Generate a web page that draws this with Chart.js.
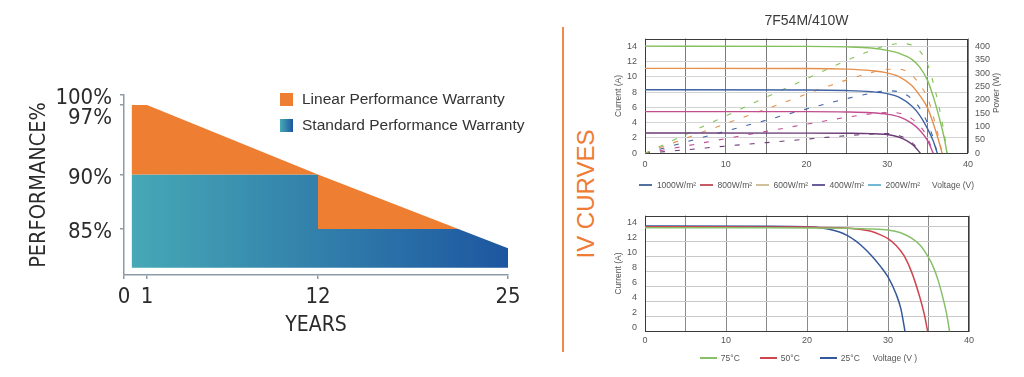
<!DOCTYPE html>
<html>
<head>
<meta charset="utf-8">
<script src="https://cdn.jsdelivr.net/npm/chart.js@4.4.1/dist/chart.umd.min.js"></script>
<style>
  html, body { margin:0; padding:0; background:#fff; }
  #page { position:relative; width:1024px; height:377px; overflow:hidden; background:#fff;
          font-family:'Liberation Sans', Arial, Helvetica, sans-serif; }
  canvas { position:absolute; }
  .divider { position:absolute; left:562px; top:27px; width:2px; height:325px; background:#f08a4c; }
  .ivtitle { position:absolute; left:586px; top:194px; transform:translate(-50%,-50%) rotate(-90deg);
             font-size:24px; line-height:24px; color:#ee7b36; white-space:nowrap; }
  .legend { position:absolute; display:flex; align-items:center; white-space:nowrap; color:#555; }
  .legend > span { display:inline-flex; align-items:center; }
</style>
</head>
<body>
<div id="page">
  <canvas id="warranty" width="560" height="377" style="left:0;top:0"></canvas>
  <div class="divider"></div>
  <div class="ivtitle">IV CURVES</div>
  <canvas id="ivIrr" width="413" height="200" style="left:600px;top:0"></canvas>
  <canvas id="ivTemp" width="413" height="177" style="left:600px;top:200px"></canvas>
  <div id="legWarranty" class="legend" style="left:280px;top:86px;flex-direction:column;align-items:flex-start;font-size:15.5px;color:#333"></div>
  <div id="legIrr" class="legend" style="left:600px;top:179px;width:413px;height:12px;justify-content:center;font-size:8.5px"></div>
  <div id="legTemp" class="legend" style="left:602px;top:352px;width:413px;height:12px;justify-content:center;font-size:8.5px"></div>
</div>
<script>
// ================= DATA =================
// Warranty chart
const yearTicks = [0, 1, 12, 25];
const percentTicks = [85, 90, 97, 100];
const linearYears = [0.33, 1, 12, 25];
const linearPercent = [97, 97, 90, 82.9];
const standardYears = [0.33, 12, 12, 21.6, 25];
const standardPercent = [90, 90, 85, 85, 82.9];
const warrantyBase = 80.8;
const warrantyLabels = ['Linear Performance Warranty', 'Standard Performance Warranty'];

// IV curves at different irradiance (current, A)
const irradianceLabels = ['1000W/m²', '800W/m²', '600W/m²', '400W/m²', '200W/m²'];
const volt1000 = [0, 20, 25, 28, 30, 31.5, 33, 34, 35, 35.7, 36.5, 37.1, 37.4];
const amp1000  = [14.0, 13.97, 13.9, 13.75, 13.45, 13.05, 12.3, 11.3, 9.5, 7.4, 4.4, 1.8, 0];
const volt800  = [0, 20, 25, 28, 30, 31.5, 33, 34, 35, 35.7, 36.3, 36.8];
const amp800   = [11.1, 11.08, 11.0, 10.8, 10.5, 10.0, 8.9, 7.6, 5.9, 3.9, 1.9, 0];
const volt600  = [0, 20, 25, 28, 30, 31.5, 33, 34, 35, 35.7, 36.2];
const amp600   = [8.3, 8.28, 8.2, 8.05, 7.8, 7.3, 6.2, 5.0, 3.2, 1.6, 0];
const volt400  = [0, 20, 25, 28, 30, 31.5, 33, 34, 35, 35.7];
const amp400   = [5.45, 5.44, 5.4, 5.3, 5.1, 4.75, 3.95, 3.05, 1.65, 0];
const volt200  = [0, 20, 25, 28, 30, 31.5, 32.5, 33.3, 34.1];
const amp200   = [2.65, 2.64, 2.62, 2.57, 2.45, 2.1, 1.6, 1.0, 0];

// Power curves (W) at different irradiance
const pVolt1000 = [0, 5, 10, 15, 20, 25, 28, 30, 31.5, 33, 34, 35, 35.7, 36.5, 37.1, 37.4];
const watt1000  = [0, 70, 140, 210, 279, 348, 385, 404, 411, 406, 384, 333, 264, 161, 67, 0];
const pVolt800  = [0, 5, 10, 15, 20, 25, 28, 30, 31.5, 33, 34, 35, 35.7, 36.3, 36.8];
const watt800   = [0, 56, 111, 166, 222, 275, 302, 315, 315, 294, 258, 207, 139, 69, 0];
const pVolt600  = [0, 5, 10, 15, 20, 25, 28, 30, 31.5, 33, 34, 35, 35.7, 36.2];
const watt600   = [0, 42, 83, 124, 166, 205, 225, 234, 230, 205, 170, 112, 57, 0];
const pVolt400  = [0, 5, 10, 15, 20, 25, 28, 30, 31.5, 33, 34, 35, 35.7];
const watt400   = [0, 27, 55, 82, 109, 135, 148, 153, 150, 130, 104, 58, 0];
const pVolt200  = [0, 5, 10, 15, 20, 25, 28, 30, 31.5, 32.5, 33.3, 34.1];
const watt200   = [0, 13, 27, 40, 53, 66, 72, 74, 66, 52, 33, 0];

// IV curves at different temperature
const temperatureLabels = ['75°C', '50°C', '25°C'];
const volt75 = [0, 15, 20, 25, 28, 30, 31, 32, 33, 34, 35, 35.6, 36.2, 36.8, 37.3, 37.6];
const amp75  = [13.85, 13.85, 13.83, 13.78, 13.7, 13.55, 13.35, 13.0, 12.4, 11.5, 9.9, 8.6, 6.8, 4.4, 2.0, 0];
const volt50 = [0, 15, 20, 24, 26, 28, 29, 30, 31, 32, 33, 34, 34.5, 34.9];
const amp50  = [14.0, 13.98, 13.95, 13.85, 13.7, 13.35, 12.95, 12.4, 11.5, 10.1, 7.7, 4.3, 2.2, 0];
const volt25 = [0, 15, 20, 22, 24, 25, 26, 27, 28, 29, 30, 31, 31.6, 32.1];
const amp25  = [14.1, 14.08, 14.0, 13.8, 13.3, 12.8, 12.1, 11.2, 10.1, 8.8, 7.3, 5.0, 3.0, 0];

const chartTitle = '7F54M/410W';
const voltageTitle = 'Voltage (V)';
const voltageTitle2 = 'Voltage (V   )';

// ================= STYLE =================
const SANS = "'Liberation Sans', Arial, Helvetica, sans-serif";
const NARROW = "'Liberation Sans Narrow', 'Arial Narrow', 'DejaVu Sans Condensed', sans-serif";
Chart.defaults.font.family = SANS;
Chart.defaults.animation = false;

const orange = '#ee7e32';
const tealStart = '#47aab6', blueEnd = '#1d56a0';
const axisGray = '#8d9aa7';
const irrColors = ['#84c05a', '#e5904c', '#3f62a3', '#c24d8f', '#6b3c76'];
const irrLegendColors = ['#52719f', '#c65a66', '#cfc29a', '#6b5d9c', '#73b8d5'];
const tempColors = ['#88c06a', '#cf4650', '#35589b'];

// piecewise-linear scale (the warranty graphic is not drawn to a uniform scale)
const axisKnots = {
  x: { values: [0, 1, 12, 25], fractions: [0, 0.0599, 0.5052, 1] },
  y: { values: [80, 85, 90, 97, 100], fractions: [0, 0.2556, 0.5583, 0.9444, 1] }
};
const LinearBase = Chart.LinearScale || Chart.registry.getScale('linear');
class BrokenLinearScale extends LinearBase {
  getPixelForValue(value) {
    if (value === null || value === undefined || Number.isNaN(+value)) return NaN;
    const k = axisKnots[this.id];
    const v = k.values, f = k.fractions;
    let i = 1;
    while (i < v.length - 1 && value > v[i]) i++;
    const d = f[i-1] + (value - v[i-1]) / (v[i] - v[i-1]) * (f[i] - f[i-1]);
    return this.getPixelForDecimal(d);
  }
  getValueForPixel(pixel) {
    const k = axisKnots[this.id];
    const v = k.values, f = k.fractions;
    const d = this.getDecimalForPixel(pixel);
    let i = 1;
    while (i < f.length - 1 && d > f[i]) i++;
    return v[i-1] + (d - f[i-1]) / (f[i] - f[i-1]) * (v[i] - v[i-1]);
  }
}
BrokenLinearScale.id = 'brokenLinear';
BrokenLinearScale.defaults = {};
Chart.register(BrokenLinearScale);

const pts = (xs, ys) => xs.map((x, i) => ({ x, y: ys[i] }));

// plugins
const framePlugin = {
  id: 'frame',
  beforeDatasetsDraw(chart, args, opts) {
    const { ctx, chartArea: a } = chart;
    ctx.save();
    ctx.strokeStyle = opts.color || '#333';
    ctx.lineWidth = opts.width || 1;
    ctx.strokeRect(Math.round(a.left) + 0.5, Math.round(a.top) + 0.5,
                   Math.round(a.right - a.left) - 1, Math.round(a.bottom - a.top) - 1);
    ctx.restore();
  }
};
const sideTitlePlugin = {
  id: 'sideTitle',
  afterDraw(chart, args, opts) {
    if (!opts || !opts.text) return;
    const ctx = chart.ctx;
    ctx.save();
    ctx.translate(opts.x, opts.y);
    ctx.rotate(-Math.PI / 2);
    ctx.font = `${opts.size}px ${SANS}`;
    ctx.fillStyle = opts.color;
    ctx.textAlign = 'center';
    ctx.textBaseline = 'middle';
    ctx.fillText(opts.text, 0, 0);
    ctx.restore();
  }
};

function makeLegend(el, items, cfg) {
  el.innerHTML = '';
  items.forEach((it, i) => {
    const item = document.createElement('span');
    const ml = i === 0 ? 0 : (it.gap !== undefined ? it.gap : cfg.gap);
    item.style.marginLeft = ml + 'px';
    if (cfg.rowHeight) item.style.height = cfg.rowHeight + 'px';
    if (it.color) {
      const sw = document.createElement('span');
      sw.style.cssText = `display:inline-block;width:${cfg.boxW}px;height:${cfg.boxH}px;background:${it.color};margin-right:${cfg.boxGap}px;flex:none`;
      item.appendChild(sw);
    }
    const tx = document.createElement('span');
    tx.textContent = it.text;
    item.appendChild(tx);
    el.appendChild(item);
  });
}

// ================= WARRANTY CHART =================
const warrantyChart = new Chart(document.getElementById('warranty'), {
  type: 'line',
  data: {
    datasets: [
      {
        label: warrantyLabels[0],
        data: pts(linearYears, linearPercent),
        borderColor: 'rgba(0,0,0,0)', borderWidth: 0, pointRadius: 0, tension: 0,
        backgroundColor: orange,
        fill: '+1',
        swatch: orange
      },
      {
        label: warrantyLabels[1],
        data: pts(standardYears, standardPercent),
        borderColor: 'rgba(0,0,0,0)', borderWidth: 0, pointRadius: 0, tension: 0,
        backgroundColor: (c) => {
          const { ctx, chartArea } = c.chart;
          if (!chartArea) return tealStart;
          const g = ctx.createLinearGradient(chartArea.left, 0, chartArea.right, 0);
          g.addColorStop(0, tealStart);
          g.addColorStop(1, blueEnd);
          return g;
        },
        fill: { value: warrantyBase },
        swatch: `linear-gradient(90deg, ${tealStart}, ${blueEnd})`
      }
    ]
  },
  options: {
    responsive: false, animation: false, events: [],
    layout: { padding: { top: 95, right: 52, bottom: 20, left: 0 } },
    plugins: { legend: { display: false }, tooltip: { enabled: false } },
    scales: {
      x: {
        type: 'brokenLinear', min: 0, max: 25,
        afterBuildTicks: (s) => { s.ticks = yearTicks.map(v => ({ value: v })); },
        ticks: { autoSkip: false, maxRotation: 0, padding: 5, color: '#2b2b2b',
                 font: { family: NARROW, size: 22 }, callback: (v) => String(v) },
        grid: { drawOnChartArea: false, drawTicks: true, tickLength: 4, color: axisGray, lineWidth: 1.5 },
        border: { color: axisGray, width: 1.5 },
        title: { display: true, text: 'YEARS', color: '#2b2b2b',
                 font: { family: NARROW, size: 21 }, padding: { top: 0, bottom: 19 } },
        afterFit: (s) => { s.height = 82; }
      },
      y: {
        type: 'brokenLinear', min: 80, max: 100,
        afterBuildTicks: (s) => { s.ticks = percentTicks.map(v => ({ value: v })); },
        ticks: { autoSkip: false, padding: 8, labelOffset: 3.5, color: '#2b2b2b',
                 font: { family: NARROW, size: 22, lineHeight: 0.9 },
                 callback: (v) => (v === 97 ? ['', v + '%'] : v + '%') },
        grid: { drawOnChartArea: false, drawTicks: true, tickLength: 4, color: axisGray, lineWidth: 1.5 },
        border: { color: axisGray, width: 1.5 },
        title: { display: true, text: 'PERFORMANCE%', color: '#2b2b2b',
                 font: { family: NARROW, size: 21.5 }, padding: { top: 27, bottom: 0 } },
        afterFit: (s) => { s.width = 124; }
      }
    }
  }
});
makeLegend(document.getElementById('legWarranty'),
  warrantyChart.data.datasets.map(ds => ({ text: ds.label, color: ds.swatch })),
  { gap: 0, boxW: 13, boxH: 13, boxGap: 9, rowHeight: 26 });

// ================= IV CURVES – IRRADIANCE =================
const ivVolts = [volt1000, volt800, volt600, volt400, volt200];
const ivAmps = [amp1000, amp800, amp600, amp400, amp200];
const pwVolts = [pVolt1000, pVolt800, pVolt600, pVolt400, pVolt200];
const pwWatts = [watt1000, watt800, watt600, watt400, watt200];

const irrDatasets = irradianceLabels.map((lab, i) => ({
  label: lab, data: pts(ivVolts[i], ivAmps[i]), yAxisID: 'y',
  borderColor: irrColors[i], borderWidth: 1.4, pointRadius: 0, fill: false,
  cubicInterpolationMode: 'monotone', legendColor: irrLegendColors[i]
}));
const powerDatasets = irradianceLabels.map((lab, i) => ({
  label: lab + ' power', data: pts(pwVolts[i], pwWatts[i]), yAxisID: 'y1',
  borderColor: irrColors[i], borderWidth: 1.1, borderDash: [5, 10], pointRadius: 0, fill: false,
  cubicInterpolationMode: 'monotone'
}));

const tickFont = { size: 9 };
const tickColor = '#555';

const irrChart = new Chart(document.getElementById('ivIrr'), {
  type: 'line',
  data: { datasets: [...irrDatasets, ...powerDatasets] },
  plugins: [framePlugin, sideTitlePlugin],
  options: {
    responsive: false, animation: false, events: [],
    layout: { padding: { top: 0, right: 0, bottom: 26.7, left: 0 } },
    plugins: {
      legend: { display: false }, tooltip: { enabled: false },
      title: { display: true, text: chartTitle, color: '#3b3b3b', font: { size: 14, weight: 'normal' },
               padding: { top: 13, bottom: 8.7 } },
      frame: { color: '#3a3a3a', width: 1 },
      sideTitle: { text: 'Power (W)', x: 397, y: 93, size: 8.5, color: '#555' }
    },
    scales: {
      x: {
        type: 'linear', min: 0, max: 40,
        ticks: { stepSize: 5, autoSkip: false, maxRotation: 0, padding: 6, color: tickColor, font: tickFont,
                 callback: (v) => (v % 10 === 0 ? String(v) : '') },
        grid: { color: '#7c7c7c', drawTicks: false },
        border: { display: false },
        afterFit: (s) => { s.height = 20; }
      },
      y: {
        type: 'linear', min: 0, max: 15,
        ticks: { stepSize: 2, includeBounds: false, padding: 8, color: tickColor, font: tickFont },
        grid: { color: '#d4d4d4', drawTicks: false },
        border: { display: false },
        title: { display: true, text: 'Current (A)', color: '#555', font: { size: 8.5 }, padding: { top: 14, bottom: 0 } },
        afterFit: (s) => { s.width = 45; }
      },
      y1: {
        type: 'linear', position: 'right', min: 0, max: 430,
        ticks: { stepSize: 50, includeBounds: false, padding: 7, color: tickColor, font: tickFont },
        grid: { drawOnChartArea: false, drawTicks: false },
        border: { display: false },
        afterFit: (s) => { s.width = 45; }
      }
    }
  }
});
makeLegend(document.getElementById('legIrr'),
  irrChart.data.datasets.filter(ds => ds.yAxisID === 'y').map(ds => ({ text: ds.label, color: ds.legendColor }))
    .concat([{ text: voltageTitle, gap: 12 }]),
  { gap: 3.5, boxW: 13, boxH: 1.5, boxGap: 5 });

// ================= IV CURVES – TEMPERATURE =================
const tVolts = [volt75, volt50, volt25];
const tAmps = [amp75, amp50, amp25];
const tempChart = new Chart(document.getElementById('ivTemp'), {
  type: 'line',
  data: {
    datasets: temperatureLabels.map((lab, i) => ({
      label: lab, data: pts(tVolts[i], tAmps[i]),
      borderColor: tempColors[i], borderWidth: 1.5, pointRadius: 0, fill: false,
      cubicInterpolationMode: 'monotone'
    }))
  },
  plugins: [framePlugin],
  options: {
    responsive: false, animation: false, events: [],
    layout: { padding: { top: 15.5, right: 44, bottom: 30.5, left: 0 } },
    plugins: {
      legend: { display: false }, tooltip: { enabled: false },
      frame: { color: '#3a3a3a', width: 1 }
    },
    scales: {
      x: {
        type: 'linear', min: 0, max: 40,
        ticks: { stepSize: 5, autoSkip: false, maxRotation: 0, padding: 4, color: tickColor, font: tickFont,
                 callback: (v) => (v % 10 === 0 ? String(v) : '') },
        grid: { color: '#8a8a8a', drawTicks: false },
        border: { display: false },
        afterFit: (s) => { s.height = 15; }
      },
      y: {
        type: 'linear', min: 0, max: 15.5,
        ticks: { stepSize: 2, includeBounds: false, padding: 8, labelOffset: -4, color: tickColor, font: tickFont },
        grid: { color: '#c9c9c9', drawTicks: false },
        border: { display: false },
        title: { display: true, text: 'Current (A)', color: '#555', font: { size: 8.5 }, padding: { top: 14, bottom: 0 } },
        afterFit: (s) => { s.width = 45; }
      }
    }
  }
});
makeLegend(document.getElementById('legTemp'),
  tempChart.data.datasets.map(ds => ({ text: ds.label, color: ds.borderColor }))
    .concat([{ text: voltageTitle2, gap: 13 }]),
  { gap: 20, boxW: 17, boxH: 1.5, boxGap: 4 });
</script>
</body>
</html>
